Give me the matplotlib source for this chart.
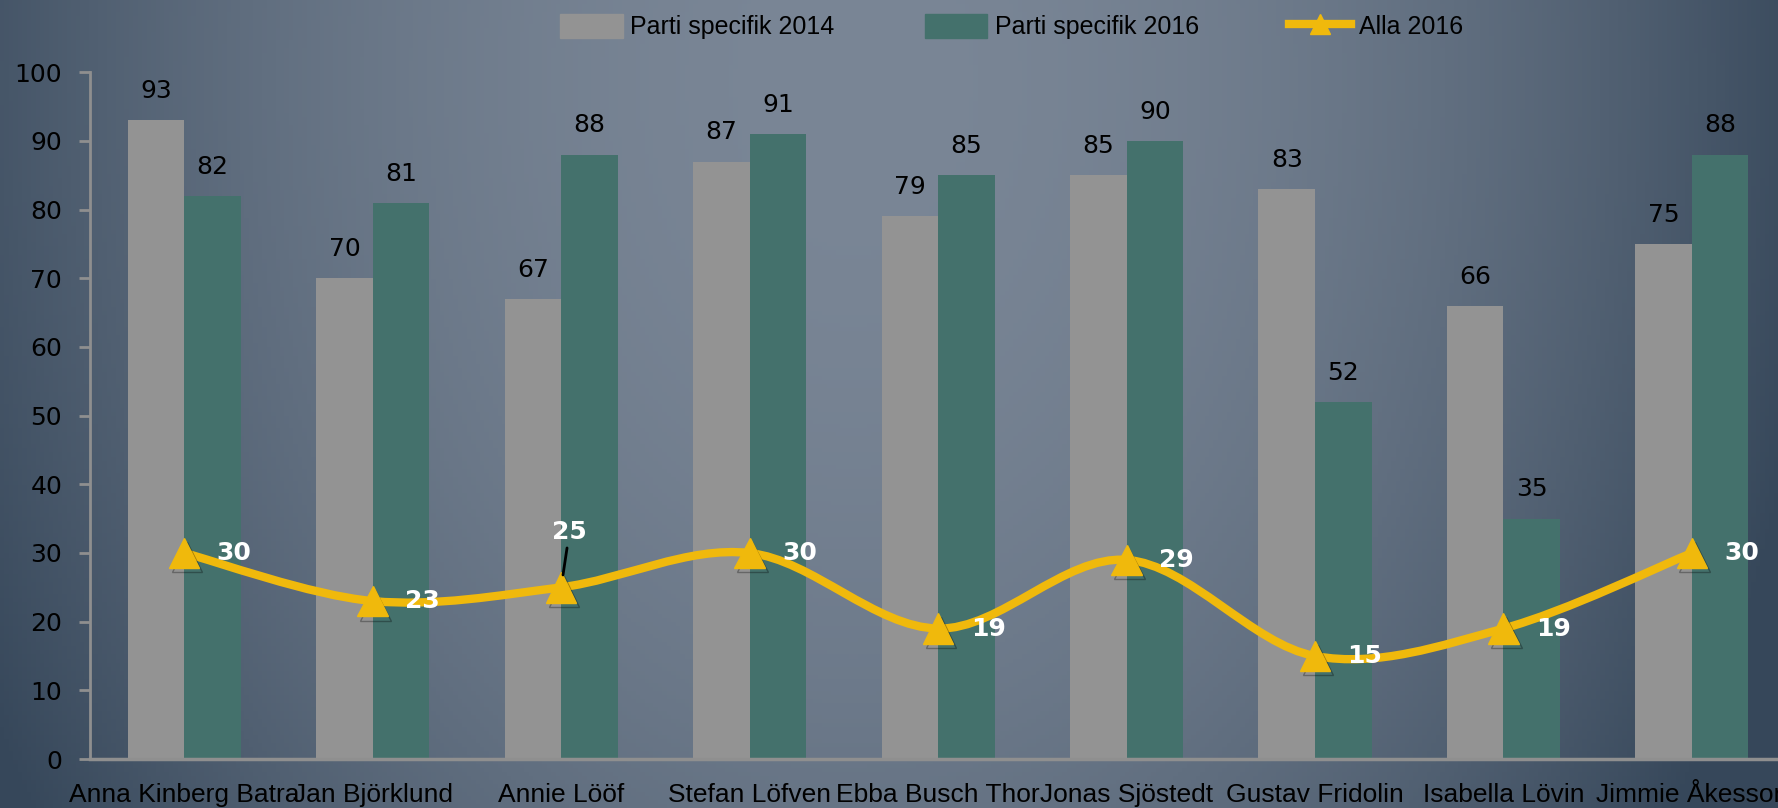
import numpy as np
import matplotlib.pyplot as plt
from matplotlib.path import Path
from matplotlib.patches import PathPatch, Patch
from matplotlib.lines import Line2D
import matplotlib.patheffects as pe

names = ["Anna Kinberg Batra", "Jan Björklund", "Annie Lööf", "Stefan Löfven",
         "Ebba Busch Thor", "Jonas Sjöstedt", "Gustav Fridolin", "Isabella Lövin",
         "Jimmie Åkesson"]
parti_2014 = [93, 70, 67, 87, 79, 85, 83, 66, 75]
parti_2016 = [82, 81, 88, 91, 85, 90, 52, 35, 88]
alla_2016 = [30, 23, 25, 30, 19, 29, 15, 19, 30]

gray = "#939393"
green = "#44716c"
yellow = "#f0b90c"
axis_col = "#8f8f8f"
narrow = ["Liberation Sans", "DejaVu Sans"]


def smooth_path(xs, ys):
    # catmull-rom style smoothing like the spreadsheet "smooth line"
    pts = np.column_stack([xs, ys]).astype(float)
    n = len(pts)
    verts = [pts[0]]
    codes = [Path.MOVETO]
    for i in range(n - 1):
        p0 = pts[max(i - 1, 0)]
        p1 = pts[i]
        p2 = pts[i + 1]
        p3 = pts[min(i + 2, n - 1)]
        verts += [p1 + (p2 - p0) / 6, p2 - (p3 - p1) / 6, p2]
        codes += [Path.CURVE4] * 3
    return Path(verts, codes)


fig = plt.figure(figsize=(17.78, 8.08), dpi=100)

# background gradient, light in the middle, darker at the sides
bg = fig.add_axes([0, 0, 1, 1], zorder=0)
gx, gy = np.meshgrid(np.linspace(0, 1, 400), np.linspace(0, 1, 200))
t = np.clip(((gx - 0.48) / 0.55) ** 2 + ((gy - 0.9) / 1.7) ** 2, 0, 1)[..., None]
light = np.array([0x7a, 0x86, 0x96]) / 255
dark = np.array([0x36, 0x47, 0x5a]) / 255
bg.imshow(light * (1 - t) + dark * t, extent=[0, 1, 0, 1], aspect="auto", origin="lower")
bg.axis("off")

ax = fig.add_axes([0.0506, 0.0606, 0.954, 0.850], zorder=1)
ax.set_facecolor("none")

x = np.arange(len(names))
w = 0.30
ax.bar(x - 0.15, parti_2014, w, color=gray, zorder=2)
ax.bar(x + 0.15, parti_2016, w, color=green, zorder=2)

for xi, v in zip(x, parti_2014):
    ax.annotate(str(v), (xi - 0.15, v), xytext=(0, 21), textcoords="offset points",
                ha="center", va="center", fontsize=18, color="black")
for xi, v in zip(x, parti_2016):
    ax.annotate(str(v), (xi + 0.15, v), xytext=(0, 21), textcoords="offset points",
                ha="center", va="center", fontsize=18, color="black")

ax.add_patch(PathPatch(smooth_path(x, alla_2016), facecolor="none", edgecolor=yellow,
                       lw=6, zorder=3, capstyle="round"))
ax.plot(x, alla_2016, ls="none", marker="^", ms=22, color=yellow, zorder=4,
        path_effects=[pe.SimpleLineShadow(offset=(2, -3), shadow_color="k", alpha=0.3),
                      pe.Normal()])

for i, (xi, v) in enumerate(zip(x, alla_2016)):
    if i == 2:
        ax.annotate(str(v), (xi, v), xytext=(6, 40), textcoords="offset points",
                    ha="center", va="center", fontsize=18, fontweight="bold", color="white",
                    zorder=5,
                    arrowprops=dict(arrowstyle="-", color="black", lw=2, shrinkA=1, shrinkB=9))
    else:
        ax.annotate(str(v), (xi, v), xytext=(36, 0), textcoords="offset points",
                    ha="center", va="center", fontsize=18, fontweight="bold", color="white",
                    zorder=5)

ax.set_xlim(-0.5, len(names) - 0.5)
ax.set_ylim(0, 100)
ax.set_yticks(range(0, 101, 10))
ax.set_xticks(x)
ax.set_xticklabels(names, fontsize=19, family=narrow, va="baseline")
ax.tick_params(axis="x", length=0, pad=31, labelcolor="black")
ax.tick_params(axis="y", length=8, width=2, color=axis_col, pad=12, labelsize=18,
               labelcolor="black")
for s in ["top", "right"]:
    ax.spines[s].set_visible(False)
ax.spines["left"].set_color(axis_col)
ax.spines["left"].set_linewidth(2)
ax.spines["bottom"].set_color(axis_col)
ax.spines["bottom"].set_linewidth(2.5)

handles = [Patch(color=gray), Patch(color=green),
           Line2D([], [], color=yellow, lw=6, marker="^", ms=14)]
fig.legend(handles, ["Parti specifik 2014", "Parti specifik 2016", "Alla 2016"],
           loc="center", bbox_to_anchor=(0.569, 0.967), ncol=3, frameon=False,
           prop={"family": narrow, "size": 18}, handlelength=2.5, handleheight=1.1,
           handletextpad=0.3, columnspacing=3.6)

fig.savefig("out.png", dpi=100)
